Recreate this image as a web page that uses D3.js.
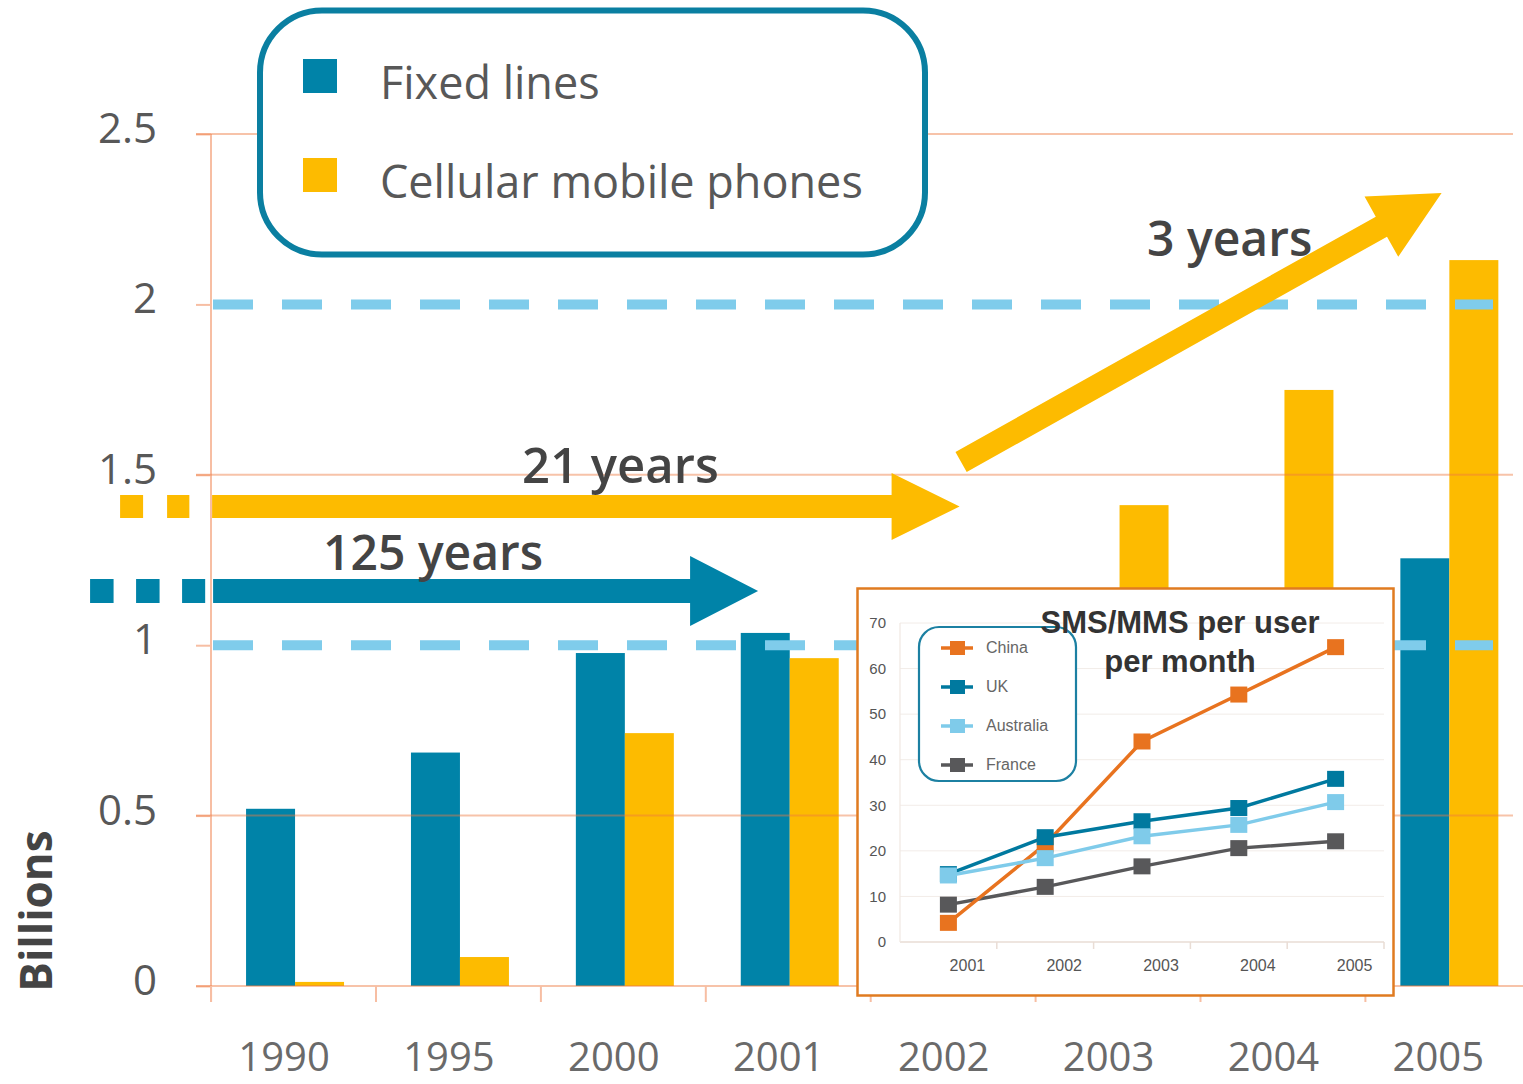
<!DOCTYPE html>
<html><head><meta charset="utf-8">
<script src="https://cdn.jsdelivr.net/npm/d3@7"></script>
<style>
html,body{margin:0;padding:0;background:#fff;}
svg{display:block;}
</style></head>
<body>
<svg id="chart" width="1523" height="1084"></svg>
<script>
// ---------- main chart data (billions) ----------
const years = ["1990","1995","2000","2001","2002","2003","2004","2005"];
const fixedLines = [0.52, 0.685, 0.977, 1.036, 1.08, 1.12, 1.16, 1.255];
const cellularPhones = [0.012, 0.085, 0.742, 0.962, 1.15, 1.411, 1.749, 2.13];
const seriesNames = ["Fixed lines", "Cellular mobile phones"];
const yTickValues = [0, 0.5, 1, 1.5, 2, 2.5];
const yTickLabels = ["0", "0.5", "1", "1.5", "2", "2.5"];
const gridLevels = [0, 0.5, 1.5, 2.5];
const milestoneLevels = [1, 2];

// ---------- inset data (SMS/MMS per user per month) ----------
const insetYears = ["2001","2002","2003","2004","2005"];
const china = [4.2, 21.4, 44.0, 54.3, 64.7];
const uk = [14.9, 23.0, 26.5, 29.4, 35.8];
const australia = [14.6, 18.4, 23.2, 25.7, 30.7];
const france = [8.2, 12.1, 16.6, 20.6, 22.1];
const insetSeriesNames = ["China", "UK", "Australia", "France"];
const insetTicks = [0, 10, 20, 30, 40, 50, 60, 70];
const insetTitle = ["SMS/MMS per user", "per month"];

// ---------- annotations (x = category index, y = billions) ----------
const arrowLabels = ["125 years", "21 years", "3 years"];

const C = {
  teal: "#0083A8", yellow: "#FDBB00", grid: "#EE7A40", dash: "#7FCCEB",
  text: "#585858", dark: "#444444",
  china: "#E8731F", uk: "#00799F", australia: "#7FCBEA", france: "#58585A"
};

const svg = d3.select("#chart");
const FONT = "'Open Sans', 'Noto Sans', sans-serif";
const IFONT = "'Liberation Sans', Arial, sans-serif";

// scales
const x = d3.scaleBand().domain(years).range([212.6, 1531.8]);
const step = x.step();
const xSub = d3.scaleBand().domain(seriesNames).range([0, step]).paddingInner(0).paddingOuter(0.683);
const y = d3.scaleLinear().domain([0, 2.5]).range([986, 134]);
const xi = d3.scaleLinear().domain([0, 7]).range([x(years[0]) + step / 2, x(years[7]) + step / 2]);

// bars
const barData = years.map((yr, i) => ({ yr, vals: [fixedLines[i], cellularPhones[i]] }));
const gBars = svg.append("g");
barData.forEach(d => {
  d.vals.forEach((v, k) => {
    gBars.append("rect")
      .attr("x", x(d.yr) + xSub(seriesNames[k]))
      .attr("width", xSub.bandwidth())
      .attr("y", y(v))
      .attr("height", y(0) - y(v))
      .attr("fill", k === 0 ? C.teal : C.yellow);
  });
});

// y axis
const yAxis = d3.axisLeft(y).tickValues(yTickValues).tickSize(15).tickPadding(39)
  .tickFormat((d, i) => yTickLabels[i]);
const gy = svg.append("g").attr("transform", "translate(211,0)").call(yAxis);
gy.select(".domain").remove();
gy.selectAll(".tick line").attr("stroke", "#F7BEA3").attr("stroke-width", 2);
gy.selectAll(".tick text").attr("font-family", FONT).attr("font-size", 42)
  .attr("fill", C.text).attr("dy", "0.2em");
svg.append("line").attr("x1", 211).attr("x2", 211).attr("y1", y(2.5)).attr("y2", 1002)
  .attr("stroke", "#F7BEA3").attr("stroke-width", 2);

// grid lines (over bars, translucent)
svg.append("g").selectAll("line").data(gridLevels).join("line")
  .attr("x1", 196).attr("x2", d => d === 0 ? 1523 : 1513)
  .attr("y1", d => y(d)).attr("y2", d => y(d))
  .attr("stroke", C.grid).attr("stroke-opacity", 0.45).attr("stroke-width", 2);

// x axis ticks + labels
const gx = svg.append("g");
gx.selectAll("line").data(years).join("line")
  .attr("x1", d => x(d) - 1.5).attr("x2", d => x(d) - 1.5)
  .attr("y1", y(0)).attr("y2", 1002)
  .attr("stroke", "#F7BEA3").attr("stroke-width", 2);
gx.selectAll("text").data(years).join("text")
  .attr("x", d => x(d) + step / 2 - 11).attr("y", 1071)
  .attr("text-anchor", "middle").attr("font-family", FONT).attr("font-size", 40)
  .attr("fill", "#6a6a6a").text(d => d);

// y title
svg.append("text").attr("transform", `translate(52,${y(0.22)}) rotate(-90)`)
  .attr("text-anchor", "middle").attr("font-family", FONT).attr("font-weight", 700)
  .attr("font-size", 44).attr("fill", C.dark).text("Billions");

// dashed milestone lines
svg.append("g").selectAll("line").data(milestoneLevels).join("line")
  .attr("x1", 213).attr("x2", 1493)
  .attr("y1", d => y(d)).attr("y2", d => y(d))
  .attr("stroke", C.dash).attr("stroke-width", 10).attr("stroke-dasharray", "40 29");

// arrows
function arrowPts(x0, y0, x1, y1, shaft, headW, headL) {
  const dx = x1 - x0, dy = y1 - y0, L = Math.hypot(dx, dy);
  const ux = dx / L, uy = dy / L, nx = -uy, ny = ux;
  const bx = x1 - ux * headL, by = y1 - uy * headL, s = shaft / 2, h = headW / 2;
  return [[x0 + nx * s, y0 + ny * s], [bx + nx * s, by + ny * s], [bx + nx * h, by + ny * h],
          [x1, y1], [bx - nx * h, by - ny * h], [bx - nx * s, by - ny * s], [x0 - nx * s, y0 - ny * s]];
}
const arrows = [
  { from: [-0.497, 1.159], to: [2.808, 1.159], shaft: 24, headW: 70, headL: 68, color: C.teal,
    dash: [-1.243, -0.545], dasharray: "23.5 22.5" },
  { from: [-0.503, 1.407], to: [4.03, 1.407], shaft: 23, headW: 67, headL: 68, color: C.yellow,
    dash: [-1.061, -0.641], dasharray: "23 24" },
  { from: [4.039, 1.5376], to: [6.953, 2.327], shaft: 23, headW: 69, headL: 69, color: C.yellow }
];
arrows.forEach(a => {
  const p = arrowPts(xi(a.from[0]), y(a.from[1]), xi(a.to[0]), y(a.to[1]), a.shaft, a.headW, a.headL);
  svg.append("polygon").attr("points", p.map(q => q.join(",")).join(" ")).attr("fill", a.color);
  if (a.dash) {
    svg.append("line").attr("x1", xi(a.dash[0])).attr("x2", xi(a.dash[1]))
      .attr("y1", y(a.from[1])).attr("y2", y(a.from[1]))
      .attr("stroke", a.color).attr("stroke-width", a.shaft).attr("stroke-dasharray", a.dasharray);
  }
});
const labelPos = [[0.17, 1.221], [1.377, 1.476], [5.167, 2.142]];
const labelSize = [48, 49, 48];
arrowLabels.forEach((t, i) => {
  svg.append("text").attr("x", xi(labelPos[i][0])).attr("y", y(labelPos[i][1]))
    .attr("font-family", FONT).attr("font-weight", 600).attr("font-size", labelSize[i])
    .attr("fill", C.dark).text(t);
});

// legend
const lg = svg.append("g");
lg.append("rect").attr("x", 260).attr("y", 10.5).attr("width", 665).attr("height", 244)
  .attr("rx", 62).attr("fill", "#fff").attr("stroke", "#0A7FA1").attr("stroke-width", 6);
seriesNames.forEach((n, i) => {
  lg.append("rect").attr("x", 303).attr("y", 59 + i * 99).attr("width", 34).attr("height", 34)
    .attr("fill", i === 0 ? C.teal : C.yellow);
  lg.append("text").attr("x", 380).attr("y", 99 + i * 99).attr("font-family", FONT)
    .attr("font-size", 45).attr("fill", C.text).text(n);
});

// ---------- inset ----------
const ig = svg.append("g");
ig.append("rect").attr("x", 857.5).attr("y", 588.5).attr("width", 536).attr("height", 407)
  .attr("fill", "#fff").attr("stroke", "#E07B20").attr("stroke-width", 2.5);
const ix = d3.scaleBand().domain(insetYears).range([900, 1384]);
const iy = d3.scaleLinear().domain([0, 70]).range([942, 623]);
ig.append("g").selectAll("line").data(insetTicks.slice(1)).join("line")
  .attr("x1", 900).attr("x2", 1384).attr("y1", d => iy(d)).attr("y2", d => iy(d))
  .attr("stroke", "#F2ECE8").attr("stroke-width", 1);
ig.append("line").attr("x1", 900).attr("x2", 1384).attr("y1", iy(0)).attr("y2", iy(0))
  .attr("stroke", "#E9DDD5").attr("stroke-width", 1.5);
ig.append("line").attr("x1", 900).attr("x2", 900).attr("y1", iy(70)).attr("y2", iy(0))
  .attr("stroke", "#F0E8E2").attr("stroke-width", 1.2);
ig.append("g").selectAll("line").data(insetYears).join("line")
  .attr("x1", d => ix(d) + ix.step()).attr("x2", d => ix(d) + ix.step())
  .attr("y1", iy(0)).attr("y2", iy(0) + 7).attr("stroke", "#E9DDD5").attr("stroke-width", 1.5);
const iya = d3.axisLeft(iy).tickValues(insetTicks).tickSize(0).tickPadding(14);
const giy = ig.append("g").attr("transform", "translate(900,0)").call(iya);
giy.select(".domain").remove();
giy.selectAll("text").attr("font-family", IFONT).attr("font-size", 15).attr("fill", "#555");
ig.append("g").selectAll("text").data(insetYears).join("text")
  .attr("x", d => ix(d) + ix.bandwidth() / 2 + 19).attr("y", 971)
  .attr("text-anchor", "middle").attr("font-family", IFONT).attr("font-size", 16)
  .attr("fill", "#555").text(d => d);

const insetData = { China: china, UK: uk, Australia: australia, France: france };
const insetColors = { China: C.china, UK: C.uk, Australia: C.australia, France: C.france };
const drawOrder = ["France", "China", "UK", "Australia"];
const line = d3.line().x((d, i) => ix(insetYears[i]) + ix.bandwidth() / 2).y(d => iy(d));
drawOrder.forEach(n => {
  const g = ig.append("g");
  g.append("path").attr("d", line(insetData[n])).attr("fill", "none")
    .attr("stroke", insetColors[n]).attr("stroke-width", 3.5);
  g.selectAll("rect").data(insetData[n]).join("rect")
    .attr("x", (d, i) => ix(insetYears[i]) + ix.bandwidth() / 2 - 8.5)
    .attr("y", d => iy(d) - 8).attr("width", 17).attr("height", 16)
    .attr("fill", insetColors[n]);
});

// inset legend
const il = ig.append("g");
il.append("rect").attr("x", 919).attr("y", 627).attr("width", 157).attr("height", 154)
  .attr("rx", 20).attr("fill", "#fff").attr("stroke", "#1C80A2").attr("stroke-width", 2.2);
insetSeriesNames.forEach((n, i) => {
  const cy = 648 + i * 39;
  il.append("line").attr("x1", 941).attr("x2", 973).attr("y1", cy).attr("y2", cy)
    .attr("stroke", insetColors[n]).attr("stroke-width", 3.5);
  il.append("rect").attr("x", 950).attr("y", cy - 7).attr("width", 15).attr("height", 14)
    .attr("fill", insetColors[n]);
  il.append("text").attr("x", 986).attr("y", cy + 5)
    .attr("font-family", IFONT).attr("font-size", 16).attr("fill", "#666").text(n);
});

// inset title
insetTitle.forEach((t, i) => {
  ig.append("text").attr("x", 1180).attr("y", 633 + i * 39).attr("text-anchor", "middle")
    .attr("font-family", IFONT).attr("font-weight", 700).attr("font-size", 31)
    .attr("fill", "#333").text(t);
});
</script>
</body></html>
